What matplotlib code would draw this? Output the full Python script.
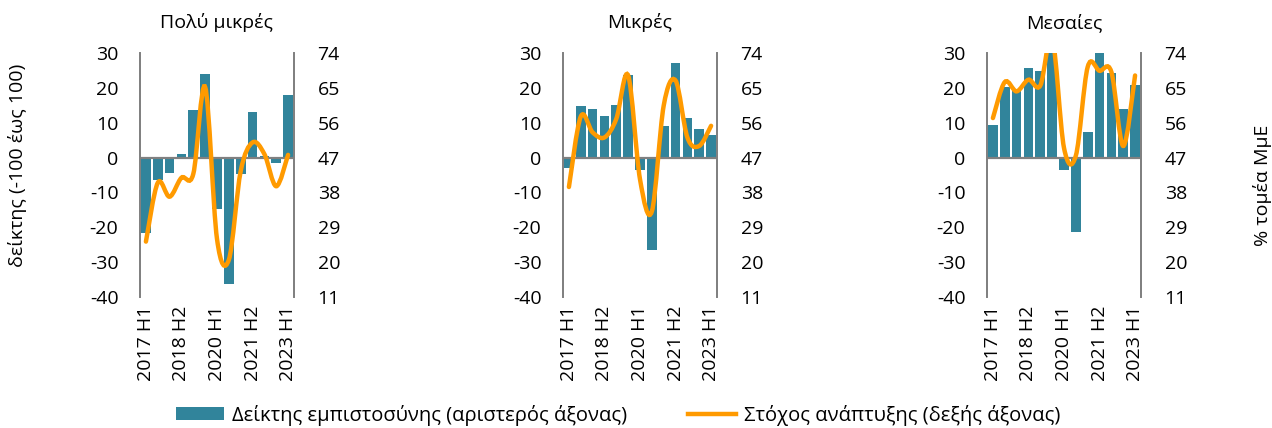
import matplotlib
matplotlib.use("Agg")
import matplotlib.pyplot as plt
from matplotlib.path import Path
from matplotlib.patches import PathPatch, Patch
from matplotlib.lines import Line2D

plt.rcParams['font.family'] = ['Open Sans', 'DejaVu Sans']
plt.rcParams['axes.unicode_minus'] = False

periods = ["2017 H1", "2017 H2", "2018 H1", "2018 H2", "2019 H1", "2019 H2", "2020 H1",
           "2020 H2", "2021 H1", "2021 H2", "2022 H1", "2022 H2", "2023 H1"]
tick_idx = [0, 3, 6, 9, 12]

titles = ["Πολύ μικρές", "Μικρές", "Μεσαίες"]

conf_very_small = [-21.5, -6.3, -4.5, 1.0, 13.6, 23.9, -14.8, -36.3, -4.6, 13.0, 0.5, -1.7, 18.0]
conf_small = [-3.1, 14.9, 14.0, 11.9, 15.2, 23.8, -3.5, -26.5, 9.0, 27.0, 11.3, 8.2, 6.6]
conf_medium = [9.3, 20.2, 19.2, 25.7, 24.8, 33.0, -3.6, -21.4, 7.4, 31.0, 24.3, 14.0, 20.7]

growth_very_small = [25.3, 40.5, 36.9, 41.8, 42.8, 65.2, 26.0, 20.6, 43.5, 50.9, 47.9, 39.6, 47.7]
growth_small = [39.4, 57.6, 53.5, 52.2, 57.0, 68.2, 41.4, 33.1, 60.4, 66.9, 52.2, 50.0, 55.2]
growth_medium = [57.2, 66.5, 64.1, 67.1, 65.6, 78.0, 49.5, 47.5, 70.4, 69.4, 69.1, 50.0, 68.2]

conf_series = [conf_very_small, conf_small, conf_medium]
growth_series = [growth_very_small, growth_small, growth_medium]

left_ticks = [-40, -30, -20, -10, 0, 10, 20, 30]
right_ticks = [11, 20, 29, 38, 47, 56, 65, 74]

BAR = "#31849B"
LINE = "#FF9A00"
GREY = "#808080"

W, H = 1272, 428
fig = plt.figure(figsize=(W / 100, H / 100), dpi=100)

panel_left = [140, 563, 987]
pw = 154
ptop, pbot = 53, 297


def smooth_path(xs, ys):
    n = len(xs)
    pts = list(zip(xs, ys))
    verts = [pts[0]]
    codes = [Path.MOVETO]
    for i in range(n - 1):
        p0 = pts[i - 1] if i > 0 else pts[i]
        p1 = pts[i]
        p2 = pts[i + 1]
        p3 = pts[i + 2] if i + 2 < n else pts[i + 1]
        c1 = (p1[0] + (p2[0] - p0[0]) / 6.0, p1[1] + (p2[1] - p0[1]) / 6.0)
        c2 = (p2[0] - (p3[0] - p1[0]) / 6.0, p2[1] - (p3[1] - p1[1]) / 6.0)
        verts += [c1, c2, p2]
        codes += [Path.CURVE4] * 3
    return Path(verts, codes)


fs = 14
for k in range(3):
    ax = fig.add_axes([panel_left[k] / W, 1 - pbot / H, pw / W, (pbot - ptop) / H])
    ax2 = ax.twinx()
    x = list(range(len(periods)))
    ax.bar(x, conf_series[k], width=0.82, color=BAR, edgecolor="none", zorder=2)
    ax.set_xlim(-0.5, len(periods) - 0.5)
    ax.set_ylim(-40, 30)
    ax.set_yticks(left_ticks)
    ax2.set_ylim(11, 74)
    ax2.set_yticks(right_ticks)
    ax.axhline(0, color=GREY, lw=1.6, zorder=3)
    pp = PathPatch(smooth_path(x, growth_series[k]), facecolor="none", edgecolor=LINE,
                   lw=3.2, transform=ax2.transData, zorder=4, capstyle="round")
    ax2.add_patch(pp)
    for a in (ax, ax2):
        for s in ("top", "bottom"):
            a.spines[s].set_visible(False)
        a.spines["left"].set_color(GREY)
        a.spines["right"].set_color(GREY)
        a.spines["left"].set_linewidth(1.3)
        a.spines["right"].set_linewidth(1.3)
    ax.tick_params(axis="y", length=0, labelsize=fs, pad=15.5, colors="#000000")
    ax2.tick_params(axis="y", length=0, labelsize=fs, pad=17, colors="#000000")
    ax.set_xticks(tick_idx)
    ax.set_xticklabels([periods[i] for i in tick_idx], rotation=90, fontsize=fs)
    ax.tick_params(axis="x", length=0, pad=6)
    ax.set_title(titles[k], fontsize=fs, pad=18)

fig.text(18 / W, 1 - 165 / H, "δείκτης (-100 έως 100)", rotation=90, ha="center", va="center", fontsize=fs)
fig.text(1262 / W, 1 - 185 / H, "% τομέα ΜμΕ", rotation=90, ha="center", va="center", fontsize=fs)

handles = [Patch(facecolor=BAR, edgecolor="none"), Line2D([0], [0], color=LINE, lw=3.2)]
labels = ["Δείκτης εμπιστοσύνης (αριστερός άξονας)", "Στόχος ανάπτυξης (δεξής άξονας)"]
fig.legend(handles, labels, loc="center", bbox_to_anchor=(618 / W, 1 - 415 / H), ncol=2,
           frameon=False, fontsize=14.5, handlelength=2.4, handleheight=0.65, columnspacing=3.0,
           handletextpad=0.4)

fig.savefig("out.png", dpi=100)
